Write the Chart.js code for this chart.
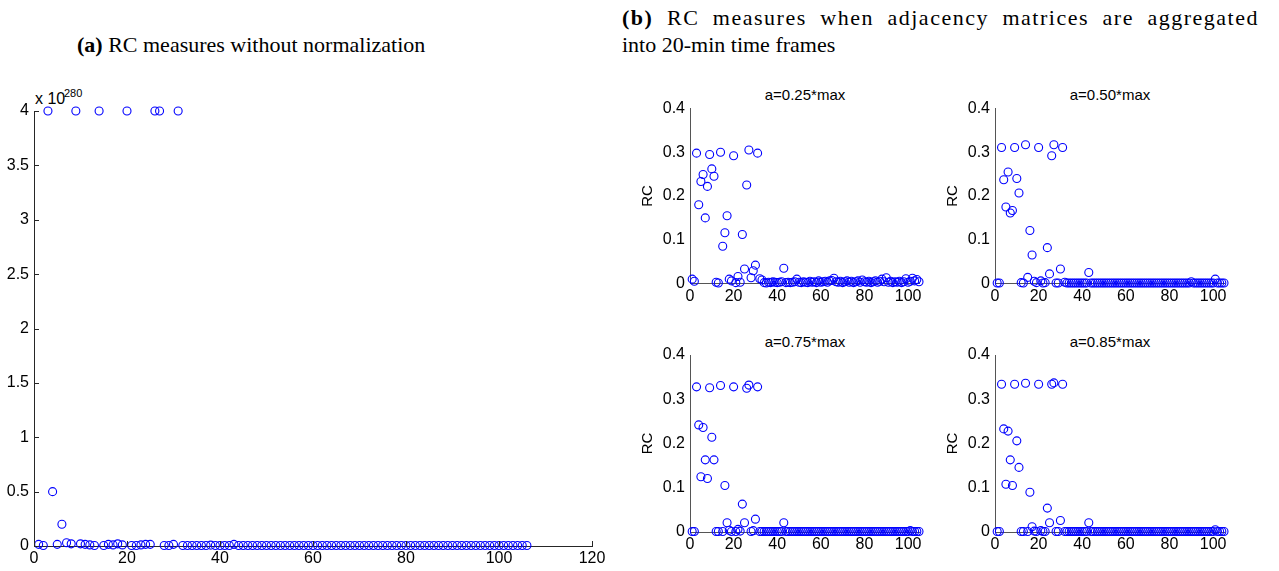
<!DOCTYPE html>
<html><head><meta charset="utf-8">
<script src="https://cdn.jsdelivr.net/npm/chart.js@4.4.0/dist/chart.umd.min.js"></script>
<style>
html,body{margin:0;padding:0;background:#fff;}
#wrap{position:relative;width:1279px;height:571px;overflow:hidden;background:#fff;}
canvas{position:absolute;}
.cap{position:absolute;font-family:"Liberation Serif","Times New Roman",serif;font-size:22px;color:#000;white-space:nowrap;line-height:1;}
.sub{position:absolute;font-family:"Liberation Sans",Arial,sans-serif;font-size:15px;color:#000;white-space:nowrap;line-height:1;transform:translateX(-50%);}
.ex{position:absolute;font-family:"Liberation Sans",Arial,sans-serif;color:#000;white-space:nowrap;line-height:1;}
</style></head><body><div id="wrap">
<div class="cap" style="left:77px;top:34px;"><b>(a)</b> RC measures without normalization</div>
<div class="cap" style="left:622px;top:7px;width:637px;text-align:justify;text-align-last:justify;letter-spacing:1.5px;"><b>(b)</b> RC measures when adjacency matrices are aggregated</div>
<div class="cap" style="left:622px;top:34px;">into 20-min time frames</div>
<div class="ex" style="left:35px;top:91px;font-size:16px;">x 10</div>
<div class="ex" style="left:64px;top:88px;font-size:11px;">280</div>
<div class="sub" style="left:805px;top:87px;">a=0.25*max</div>
<div class="sub" style="left:1110px;top:87px;">a=0.50*max</div>
<div class="sub" style="left:805px;top:334px;">a=0.75*max</div>
<div class="sub" style="left:1110px;top:334px;">a=0.85*max</div>
<canvas id="cA"></canvas>
<canvas id="cB1"></canvas>
<canvas id="cB2"></canvas>
<canvas id="cB3"></canvas>
<canvas id="cB4"></canvas>
</div>
<script>
// ---------- data ----------
const exponentA = 280; // values in panel (a) are in units of 10^280
const rcNoNorm = [
 0.015,0.005,4,0.5,0.015,0.2,0.03,0.02,4,0.02,
 0.015,0.01,0.005,4,0.005,0.015,0.01,0.02,0.01,4,
 0.005,0.005,0.01,0.015,0.015,4,4,0.005,0.005,0.015,
 4,0.005,0.005,0.005,0.005,0.005,0.005,0.008,0.005,0.005,
 0.005,0.005,0.015,0.005,0.005,0.005,0.005,0.005,0.005,0.005,
 0.005,0.005,0.005,0.005,0.005,0.005,0.005,0.005,0.005,0.005,
 0.005,0.005,0.005,0.005,0.005,0.005,0.005,0.005,0.005,0.005,
 0.005,0.005,0.005,0.005,0.005,0.005,0.005,0.005,0.005,0.005,
 0.005,0.005,0.005,0.005,0.005,0.005,0.005,0.005,0.005,0.005,
 0.005,0.005,0.005,0.005,0.005,0.005,0.005,0.005,0.005,0.005,
 0.005,0.005,0.005,0.005,0.005,0.005
];
const rc025 = [
 0.010,0.005,0.298,0.180,0.233,0.249,0.150,0.222,0.295,0.262,
 0.245,0.003,0.001,0.300,0.085,0.116,0.155,0.010,0.006,0.292,
 0.002,0.016,0.003,0.112,0.033,0.225,0.305,0.013,0.029,0.042,
 0.298,0.011,0.008,0.002,0.001,0.003,0.002,0.004,0.003,0.002,
 0.003,0.004,0.035,0.002,0.003,0.002,0.003,0.004,0.010,0.003,
 0.002,0.004,0.003,0.002,0.005,0.003,0.004,0.002,0.006,0.003,
 0.004,0.005,0.003,0.006,0.007,0.012,0.004,0.003,0.005,0.002,
 0.004,0.006,0.003,0.005,0.002,0.004,0.006,0.003,0.008,0.004,
 0.003,0.005,0.002,0.004,0.006,0.003,0.005,0.010,0.004,0.013,
 0.003,0.005,0.002,0.004,0.003,0.005,0.002,0.004,0.011,0.003,
 0.005,0.012,0.006,0.009,0.004,0.002
];
const rc050 = [
 0.001,0.001,0.311,0.237,0.175,0.255,0.161,0.167,0.311,0.240,
 0.207,0.002,0.001,0.317,0.014,0.121,0.065,0.005,0.002,0.311,
 0.006,0.001,0.002,0.082,0.022,0.292,0.317,0.001,0.001,0.033,
 0.311,0.003,0.001,0.001,0.001,0.001,0.001,0.001,0.001,0.001,
 0.001,0.001,0.025,0.001,0.001,0.001,0.001,0.001,0.001,0.001,
 0.001,0.001,0.001,0.001,0.001,0.001,0.001,0.001,0.001,0.001,
 0.001,0.001,0.001,0.001,0.001,0.001,0.001,0.001,0.001,0.001,
 0.001,0.001,0.001,0.001,0.001,0.001,0.001,0.001,0.001,0.001,
 0.001,0.001,0.001,0.001,0.001,0.001,0.001,0.001,0.001,0.004,
 0.001,0.001,0.001,0.001,0.001,0.001,0.001,0.001,0.001,0.001,
 0.010,0.001,0.001,0.001,0.001,0.001
];
const rc075 = [
 0.001,0.001,0.328,0.242,0.125,0.236,0.163,0.121,0.326,0.214,
 0.163,0.001,0.001,0.331,0.001,0.105,0.021,0.004,0.001,0.328,
 0.001,0.006,0.002,0.063,0.021,0.325,0.332,0.001,0.003,0.029,
 0.328,0.001,0.001,0.001,0.001,0.001,0.001,0.001,0.001,0.001,
 0.001,0.001,0.021,0.001,0.001,0.001,0.001,0.001,0.001,0.001,
 0.001,0.001,0.001,0.001,0.001,0.001,0.001,0.001,0.001,0.001,
 0.001,0.001,0.001,0.001,0.001,0.001,0.001,0.001,0.001,0.001,
 0.001,0.001,0.001,0.001,0.001,0.001,0.001,0.001,0.001,0.001,
 0.001,0.001,0.001,0.001,0.001,0.001,0.001,0.001,0.001,0.001,
 0.001,0.001,0.001,0.001,0.001,0.001,0.001,0.001,0.001,0.001,
 0.003,0.001,0.001,0.001,0.001,0.001
];
const rc085 = [
 0.001,0.001,0.334,0.233,0.108,0.228,0.163,0.105,0.334,0.206,
 0.146,0.001,0.001,0.336,0.001,0.090,0.012,0.002,0.001,0.334,
 0.003,0.001,0.001,0.054,0.021,0.334,0.337,0.001,0.001,0.026,
 0.334,0.001,0.001,0.001,0.001,0.001,0.001,0.001,0.001,0.001,
 0.001,0.001,0.021,0.001,0.001,0.001,0.001,0.001,0.001,0.001,
 0.001,0.001,0.001,0.001,0.001,0.001,0.001,0.001,0.001,0.001,
 0.001,0.001,0.001,0.001,0.001,0.001,0.001,0.001,0.001,0.001,
 0.001,0.001,0.001,0.001,0.001,0.001,0.001,0.001,0.001,0.001,
 0.001,0.001,0.001,0.001,0.001,0.001,0.001,0.001,0.001,0.001,
 0.001,0.001,0.001,0.001,0.001,0.001,0.001,0.001,0.001,0.001,
 0.005,0.001,0.001,0.001,0.001,0.001
];
const xTicksA = [0,20,40,60,80,100,120];
const yTicksA = [0,0.5,1,1.5,2,2.5,3,3.5,4];
const xTicksB = [0,20,40,60,80,100];
const yTicksB = [0,0.1,0.2,0.3,0.4];

// ---------- drawing ----------
const FONT = '"Liberation Sans", Arial, sans-serif';

const inwardTicks = {
  id:'inwardTicks',
  afterDraw(chart, args, opts){
    if(!opts || !opts.enabled) return;
    const {ctx, chartArea:a, scales:{x,y}} = chart;
    ctx.save();
    ctx.strokeStyle = opts.color; ctx.lineWidth = 1;
    ctx.beginPath();
    x.ticks.forEach(t=>{const p=Math.round(x.getPixelForValue(t.value))+0.5; ctx.moveTo(p,a.bottom); ctx.lineTo(p,a.bottom-5);});
    y.ticks.forEach(t=>{const p=Math.round(y.getPixelForValue(t.value))+0.5; ctx.moveTo(a.left,p); ctx.lineTo(a.left+5,p);});
    ctx.stroke();
    ctx.restore();
  }
};

function build(id, box, area, values, xr, yr, xT, yT, cfg){
  const cv = document.getElementById(id);
  cv.width = box.w; cv.height = box.h;
  Object.assign(cv.style,{left:box.l+'px',top:box.t+'px',width:box.w+'px',height:box.h+'px'});
  const yW = area.l - box.l, padTop = area.t - box.t, padRight = box.l + box.w - area.r, xH = box.t + box.h - area.b;
  return new Chart(cv, {
    type:'scatter',
    data:{datasets:[{
      data: values.map((v,i)=>({x:i+1,y:v})),
      showLine:false, pointStyle:'circle', pointRadius:4, pointHoverRadius:4,
      pointBorderColor:'#0000ff', pointBackgroundColor:'rgba(0,0,0,0)', pointBorderWidth:1.1, clip:false
    }]},
    options:{
      responsive:false, animation:false, events:[], devicePixelRatio:1,
      layout:{padding:{top:padTop,right:padRight,left:0,bottom:0}, autoPadding:false},
      plugins:{legend:{display:false}, tooltip:{enabled:false}, title:{display:false},
               inwardTicks:{enabled:cfg.inward, color:cfg.axisColor}},
      scales:{
        x:{type:'linear', min:xr[0], max:xr[1],
           grid:{display:false, drawTicks:false}, border:{display:true,color:cfg.axisColor,width:1},
           afterBuildTicks:s=>{s.ticks = xT.map(v=>({value:v}));},
           afterFit:s=>{s.height = xH;},
           ticks:{autoSkip:false, maxRotation:0, padding:3, color:'#000', font:{family:FONT,size:16}, callback:v=>String(v)}},
        y:{type:'linear', min:yr[0], max:yr[1],
           grid:{display:false, drawTicks:false}, border:{display:true,color:cfg.axisColor,width:1},
           afterBuildTicks:s=>{s.ticks = yT.map(v=>({value:v}));},
           afterFit:s=>{s.width = yW;},
           title:{display:!!cfg.ytitle, text:cfg.ytitle||'', color:'#000', font:{family:FONT,size:15}, padding:{top:14,bottom:0}},
           ticks:{padding:5, color:'#000', font:{family:FONT,size:16}, callback:v=>String(v)}}
      }
    },
    plugins:[inwardTicks]
  });
}

const bX = [0,105], bY = [0,0.4];
build('cA', {l:0,t:80,w:625,h:491}, {l:34,t:111,r:592,b:546}, rcNoNorm, [0,120], [0,4], xTicksA, yTicksA, {inward:true, axisColor:'#262626'});
build('cB1', {l:625,t:85,w:310,h:220}, {l:690,t:108.5,r:919,b:283.5}, rc025, bX, bY, xTicksB, yTicksB, {inward:false, axisColor:'#555', ytitle:'RC'});
build('cB2', {l:930,t:85,w:349,h:220}, {l:995,t:108.5,r:1224,b:283.5}, rc050, bX, bY, xTicksB, yTicksB, {inward:false, axisColor:'#555', ytitle:'RC'});
build('cB3', {l:625,t:330,w:310,h:241}, {l:690,t:355,r:919,b:532}, rc075, bX, bY, xTicksB, yTicksB, {inward:false, axisColor:'#555', ytitle:'RC'});
build('cB4', {l:930,t:330,w:349,h:241}, {l:995,t:355,r:1224,b:532}, rc085, bX, bY, xTicksB, yTicksB, {inward:false, axisColor:'#555', ytitle:'RC'});
</script>
</body></html>
